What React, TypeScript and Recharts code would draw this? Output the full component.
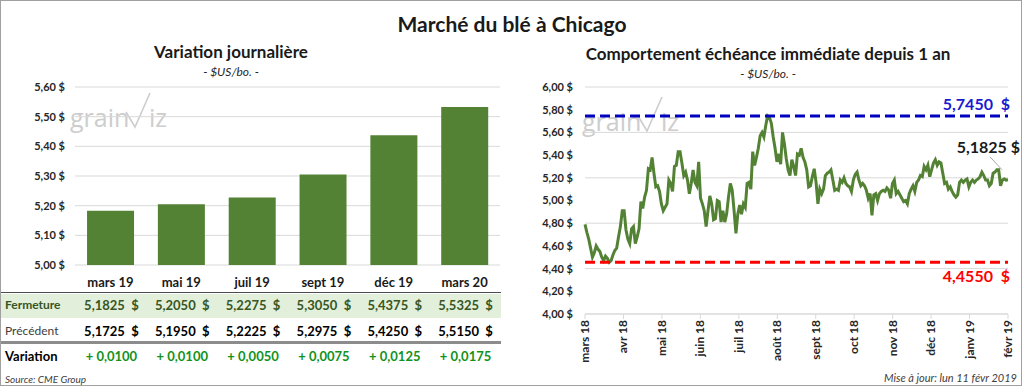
import { Bar, BarChart, CartesianGrid, Line, LineChart, ReferenceDot, ReferenceLine, XAxis, YAxis } from 'recharts'

const contracts = ['mars 19', 'mai 19', 'juil 19', 'sept 19', 'déc 19', 'mars 20']
const closing = [5.1825, 5.205, 5.2275, 5.305, 5.4375, 5.5325]
const previous = [5.1725, 5.195, 5.2225, 5.2975, 5.425, 5.515]
const change = [0.01, 0.01, 0.005, 0.0075, 0.0125, 0.0175]
const barTicks = [5, 5.1, 5.2, 5.3, 5.4, 5.5, 5.6]

const monthLabels = ['mars 18', 'avr 18', 'mai 18', 'juin 18', 'juil 18', 'août 18', 'sept 18', 'oct 18', 'nov 18', 'déc 18', 'janv 19', 'févr 19']
const priceTicks = [4, 4.2, 4.4, 4.6, 4.8, 5, 5.2, 5.4, 5.6, 5.8, 6]
const yearHigh = 5.745
const yearLow = 4.455

// front-month daily settle, mars 2018 -> 11 févr 2019
const prices = [
  4.79, 4.72, 4.66, 4.58, 4.5, 4.54, 4.6, 4.57, 4.55, 4.5, 4.47, 4.51, 4.49, 4.455, 4.47, 4.52, 4.56, 4.58, 4.68, 4.77,
  4.91, 4.91, 4.74, 4.66, 4.62, 4.75, 4.77, 4.62, 4.68, 4.75, 4.99, 4.93, 5.03, 5.09, 5.28, 5.27, 5.38, 5.24, 5.12, 5.13,
  5.08, 4.97, 4.91, 4.94, 4.97, 5.18, 5.15, 5.08, 5.3, 5.31, 5.43, 5.43, 5.33, 5.22, 5.25, 5.18, 5.06, 5.15, 5.27, 5.16,
  5.13, 5.34, 5.02, 4.97, 4.91, 4.77, 4.91, 5.04, 4.97, 4.83, 4.84, 5.0, 4.99, 4.81, 4.91,
  4.81, 4.88, 5.03, 5.15, 5.09, 4.91, 4.71, 4.88, 4.96, 4.88, 4.97, 4.94, 5.15, 5.16, 5.1, 5.43, 5.31, 5.38, 5.46, 5.57,
  5.6, 5.56, 5.66, 5.745, 5.73, 5.68, 5.56, 5.46, 5.34, 5.41, 5.32, 5.6, 5.5, 5.37, 5.27, 5.22, 5.36, 5.3, 5.22, 5.41,
  5.4, 5.46, 5.38, 5.34, 5.27, 5.12, 5.13, 5.21, 5.28, 5.16, 4.97, 5.1, 5.06, 5.1, 5.22, 5.24, 5.25, 5.27, 5.18, 5.09,
  5.1, 5.09, 5.18, 5.16, 5.2, 5.15, 5.13, 5.12, 5.08, 5.18, 5.23, 5.25, 5.18, 5.13,
  5.15, 5.13, 5.09, 5.02, 5.06, 4.87, 5.05, 5.06, 5.0, 5.06, 5.08, 5.09, 5.08, 5.11, 5.09, 5.02, 5.15, 5.18, 5.06, 5.08,
  5.05, 5.02, 4.99, 5.0, 4.97, 5.06, 5.1, 5.13, 5.08, 5.16, 5.18, 5.22, 5.21, 5.3, 5.27, 5.31, 5.21, 5.27, 5.33, 5.36,
  5.31, 5.34, 5.33, 5.24, 5.15, 5.16, 5.1, 5.12, 5.08, 5.05, 5.03, 5.05, 5.16, 5.18, 5.16, 5.18, 5.19, 5.12, 5.16, 5.18,
  5.16, 5.18, 5.19, 5.21, 5.25, 5.22, 5.18, 5.18, 5.13, 5.15, 5.24, 5.25, 5.27, 5.27, 5.13, 5.18, 5.19, 5.18, 5.1825,
]

const FONT = 'Lato, "Open Sans", sans-serif'
const GREEN = '#548235'
const COL_LEFT = 75
const COL_W = 425 / contracts.length

const money2 = (v: number) => `${v.toFixed(2).replace('.', ',')} $`
const money4 = (v: number) => `${v.toFixed(4).replace('.', ',')}  $`

const barData = contracts.map((contract, i) => ({ contract, close: closing[i] }))
const lineData = prices.map((price, i) => ({ i, price }))
const monthTicks = monthLabels.map((_, i) => (i * (prices.length - 1)) / (monthLabels.length - 1))

const axisTick = { fill: '#262626', fontSize: 11, fontWeight: 700, fontFamily: FONT }

function MonthTick({ x, y, index }: any) {
  return (
    <text
      transform={`translate(${x + 4},${y - 1}) rotate(-90)`}
      textAnchor="end"
      fill="#262626"
      fontSize={12}
      fontWeight={700}
      fontFamily={FONT}
    >
      {monthLabels[index]}
    </text>
  )
}

function RefLabel({ viewBox, text, color, above }: any) {
  return (
    <text
      x={viewBox.x + viewBox.width + 2}
      y={above ? viewBox.y - 6 : viewBox.y + 20}
      textAnchor="end"
      fill={color}
      fontSize={16}
      fontWeight={700}
      fontFamily={FONT}
      style={{ whiteSpace: 'pre' }}
    >
      {text}
    </text>
  )
}

function LastMark({ cx, cy }: any) {
  return (
    <g>
      <line x1={cx - 18} y1={cy - 23} x2={cx - 6} y2={cy - 10} stroke="#a6a6a6" strokeWidth={1} />
      <text x={cx + 12} y={cy - 27} textAnchor="end" fill="#1a1a1a" fontSize={16} fontWeight={700} fontFamily={FONT}>
        {money4(prices[prices.length - 1]).replace('  ', ' ')}
      </text>
    </g>
  )
}

function Watermark({ left, top }: { left: number; top: number }) {
  return (
    <svg width={115} height={45} style={{ position: 'absolute', left, top }}>
      <text x={0} y={36} fontSize={25} fill="#cdcdcd" fontFamily='"Open Sans", sans-serif'>grain</text>
      <path d="M56 21 L65 36 L80 2" fill="none" stroke="#cdcdcd" strokeWidth={1.6} />
      <text x={79} y={36} fontSize={25} fill="#cdcdcd" fontFamily='"Open Sans", sans-serif'>iz</text>
    </svg>
  )
}

const rowText = (color: string, weight: number, size: number) => ({
  position: 'absolute' as const,
  fontFamily: FONT,
  fontSize: size,
  fontWeight: weight,
  color,
  whiteSpace: 'pre' as const,
  lineHeight: '16px',
})

function TableRow({ top, label, labelStyle, values, valueColor }: any) {
  return (
    <>
      <div style={{ ...labelStyle, left: 4, top }}>{label}</div>
      {values.map((v: string, i: number) => (
        <div
          key={i}
          style={{ ...rowText(valueColor, 700, 13), left: COL_LEFT + i * COL_W, width: COL_W, top, textAlign: 'center' }}
        >
          {v}
        </div>
      ))}
    </>
  )
}

export default function App() {
  return (
    <div
      style={{
        position: 'absolute',
        left: 0,
        top: 0,
        width: 1022,
        height: 386,
        border: '1px solid #a0a0a0',
        boxSizing: 'border-box',
        background: '#fff',
        fontFamily: FONT,
        overflow: 'hidden',
      }}
    >
      <div style={{ position: 'absolute', left: 0, width: 1022, top: 10, textAlign: 'center', fontSize: 21, fontWeight: 700, color: '#1a1a1a' }}>
        Marché du blé à Chicago
      </div>

      <div style={{ position: 'absolute', left: 130, width: 200, top: 40, textAlign: 'center', fontSize: 17, fontWeight: 700, color: '#1a1a1a' }}>
        Variation journalière
      </div>
      <div style={{ position: 'absolute', left: 130, width: 200, top: 63, textAlign: 'center', fontSize: 12, fontStyle: 'italic', color: '#262626' }}>
        - $US/bo. -
      </div>

      <div style={{ position: 'absolute', left: 517, width: 500, top: 42, textAlign: 'center', fontSize: 17, fontWeight: 700, color: '#1a1a1a' }}>
        Comportement échéance immédiate depuis 1 an
      </div>
      <div style={{ position: 'absolute', left: 517, width: 500, top: 65, textAlign: 'center', fontSize: 12, fontStyle: 'italic', color: '#262626' }}>
        - $US/bo. -
      </div>

      <Watermark left={69} top={90} />
      <Watermark left={581} top={94} />

      <div style={{ position: 'absolute', left: -1, top: -1 }}>
        <BarChart width={505} height={290} data={barData} margin={{ top: 87, right: 5, bottom: 5, left: 0 }} barCategoryGap="17%">
          <CartesianGrid vertical={false} stroke="#d9d9d9" />
          <XAxis
            dataKey="contract"
            interval={0}
            axisLine={false}
            tickLine={false}
            tickSize={0}
            tickMargin={13}
            height={20}
            tick={{ fill: '#1a1a1a', fontSize: 13, fontWeight: 700, fontFamily: FONT }}
          />
          <YAxis
            domain={[5, 5.6]}
            ticks={barTicks}
            width={75}
            tickFormatter={money2}
            axisLine={false}
            tickLine={false}
            tickSize={0}
            tickMargin={10}
            tick={axisTick}
          />
          <Bar dataKey="close" fill={GREEN} isAnimationActive={false} />
        </BarChart>
      </div>

      {/* quote table under the bars */}
      <div style={{ position: 'absolute', left: 0, width: 500, top: 291, borderTop: '1.5px solid #4d4d4d' }} />
      <div style={{ position: 'absolute', left: 0, width: 500, top: 293, height: 24, background: '#e2efda' }} />
      <TableRow
        top={296}
        label="Fermeture"
        labelStyle={rowText('#375623', 700, 12)}
        values={closing.map(money4)}
        valueColor="#375623"
      />
      <TableRow
        top={322}
        label="Précédent"
        labelStyle={rowText('#404040', 400, 12)}
        values={previous.map(money4)}
        valueColor="#000"
      />
      <div style={{ position: 'absolute', left: 0, width: 500, top: 340, borderTop: '3px solid #8c8c8c' }} />
      <TableRow
        top={347}
        label="Variation"
        labelStyle={rowText('#000', 700, 13)}
        values={change.map((v) => `+ ${v.toFixed(4).replace('.', ',')}`)}
        valueColor="#12921a"
      />
      <div style={{ ...rowText('#404040', 400, 10), left: 4, top: 370, fontStyle: 'italic' }}>Source: CME Group</div>
      <div style={{ ...rowText('#404040', 400, 11), right: 4, top: 369, fontStyle: 'italic' }}>Mise à jour: lun 11 févr 2019</div>

      <div style={{ position: 'absolute', left: 504, top: -1 }}>
        <LineChart width={515} height={387} data={lineData} margin={{ top: 87, right: 12, bottom: 13, left: 0 }}>
          <CartesianGrid vertical={false} stroke="#d9d9d9" />
          <XAxis
            type="number"
            dataKey="i"
            domain={[0, prices.length - 1]}
            ticks={monthTicks}
            interval={0}
            height={60}
            stroke="#d9d9d9"
            tickSize={5}
            tick={<MonthTick />}
          />
          <YAxis
            domain={[4, 6]}
            ticks={priceTicks}
            width={80}
            tickFormatter={money2}
            axisLine={false}
            tickLine={false}
            tickSize={0}
            tickMargin={12}
            tick={axisTick}
          />
          <Line type="linear" dataKey="price" stroke={GREEN} strokeWidth={3} dot={false} isAnimationActive={false} />
          <ReferenceLine
            y={yearHigh}
            stroke="#0000c0"
            strokeWidth={3}
            strokeDasharray="10 5"
            label={<RefLabel text={money4(yearHigh)} color="#1a1ad0" above />}
          />
          <ReferenceLine
            y={yearLow}
            stroke="#ff0000"
            strokeWidth={3}
            strokeDasharray="10 5"
            label={<RefLabel text={money4(yearLow)} color="#ff0000" />}
          />
          <ReferenceDot x={prices.length - 1} y={prices[prices.length - 1]} r={0} shape={(p: any) => <LastMark {...p} />} />
        </LineChart>
      </div>
    </div>
  )
}
